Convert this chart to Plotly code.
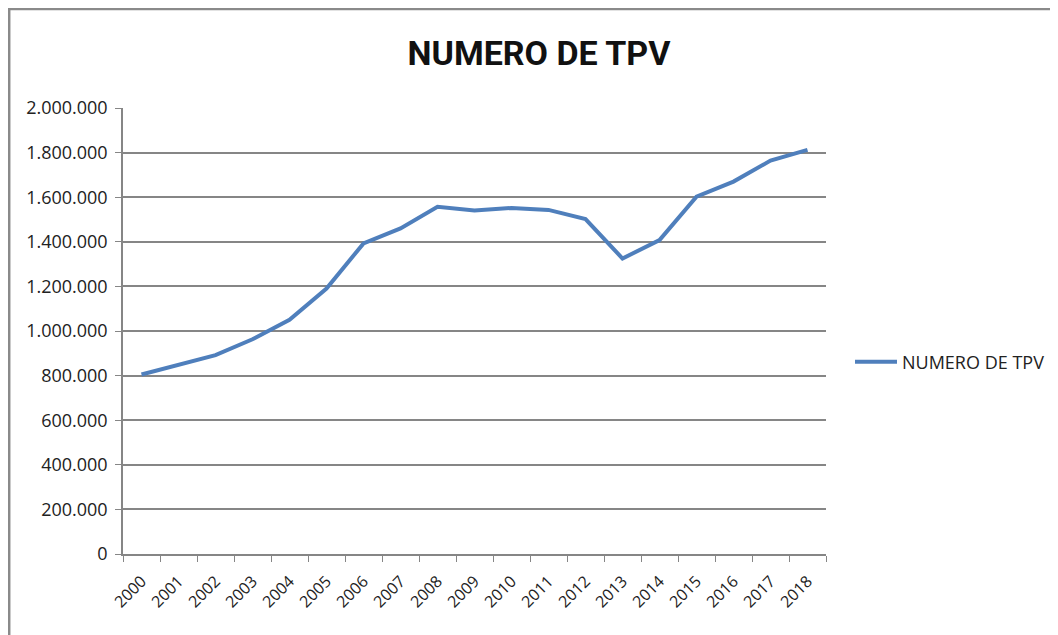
import plotly.graph_objects as go

years = [str(y) for y in range(2000, 2019)]
tpv = [805000, 848000, 892000, 963000, 1050000, 1190000, 1393000, 1460000, 1557000,
       1540000, 1552000, 1543000, 1502000, 1325000, 1408000, 1602000, 1670000,
       1764000, 1812000]
series_name = "NUMERO DE TPV"
title_text = "NUMERO DE TPV"

# page body has an 8px margin; work in page coords and shift
OFF = 8
W, H = 1058 - OFF, 635 - OFF
L, R, T, B = 123 - OFF, 826 - OFF, 108 - OFF, 554 - OFF
pw, ph = R - L, B - T

fig = go.Figure()
fig.add_trace(go.Scatter(
    x=years, y=tpv, mode="lines", name=series_name,
    line=dict(color="#4F7FBC", width=4),
))

font_title = "Roboto, Open Sans, sans-serif"
font_txt = "Open Sans, sans-serif"

fig.update_layout(
    width=W, height=H,
    margin=dict(l=L, r=W - R, t=T, b=H - B, pad=0, autoexpand=False),
    paper_bgcolor="white", plot_bgcolor="white",
    separators=",.",
    font=dict(family=font_txt, size=16, color="#222"),
    title=dict(text=f"<b>{title_text}</b>", x=(539 - OFF) / W, xanchor="center",
               y=1 - (53 - OFF) / H, yanchor="middle",
               font=dict(family=font_title, size=34, color="#111")),
    showlegend=True,
    legend=dict(x=(850 - OFF - L) / pw, xanchor="left", y=(B - (362 - OFF)) / ph, yanchor="middle",
                font=dict(family=font_txt, size=18, color="#222"),
                bgcolor="rgba(0,0,0,0)", itemwidth=42),
    xaxis=dict(
        type="category", showgrid=False, showline=True, linecolor="#868686", linewidth=1.5,
        ticks="outside", ticklen=6, tickcolor="#868686", tickson="boundaries",
        tickangle=-45, tickfont=dict(size=16, color="#222"), ticklabelstandoff=10,
        range=[-0.5, len(years) - 0.5],
    ),
    yaxis=dict(
        range=[0, 2000000], dtick=200000, tickformat=",d",
        showgrid=True, gridcolor="#868686", gridwidth=1.5,
        showline=True, linecolor="#868686", linewidth=1.5,
        ticks="outside", ticklen=6, tickcolor="#868686", ticklabelstandoff=4,
        tickfont=dict(size=18, color="#222"), zeroline=False,
    ),
    shapes=[dict(type="rect", xref="paper", yref="paper",
                 x0=(1.2 - L) / pw, x1=(W + 20 - L) / pw,
                 y0=(B - (H + 20)) / ph, y1=(B - (9 - OFF)) / ph,
                 line=dict(color="#8a8a8a", width=2.5), fillcolor="rgba(0,0,0,0)",
                 layer="below")],
)

fig.write_html("out.html")
